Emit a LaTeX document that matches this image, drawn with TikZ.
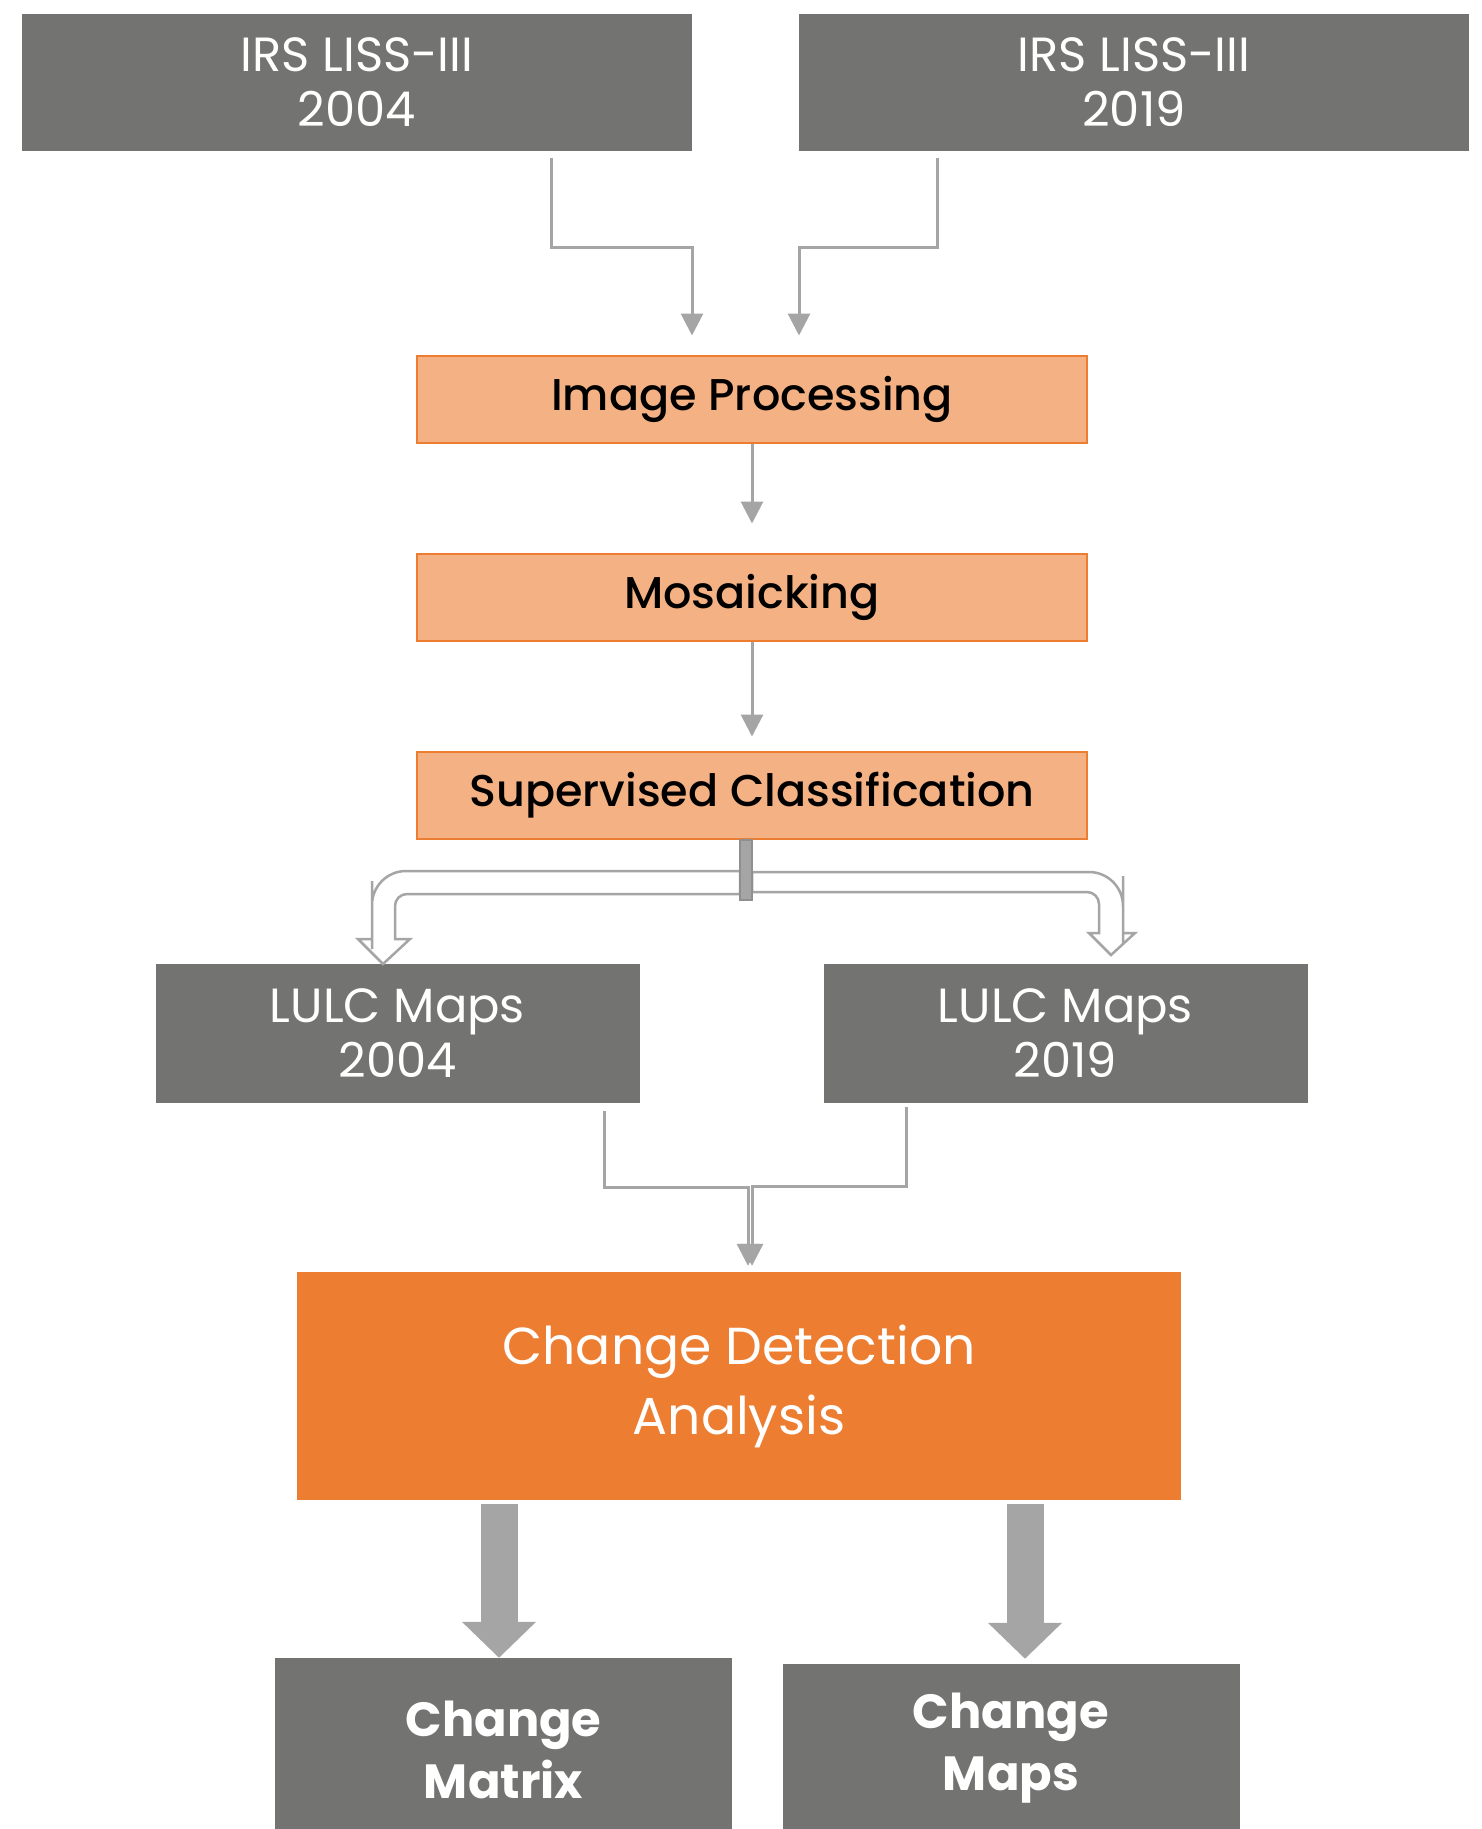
\documentclass[tikz,border=0pt]{standalone}
\usepackage{fontspec}
\setmainfont{Poppins}
\newfontfamily\medfont{Poppins}[UprightFont=*-Medium]
\usetikzlibrary{arrows.meta,positioning}
\definecolor{boxgray}{RGB}{115,115,113}
\definecolor{peach}{RGB}{244,177,131}
\definecolor{deeporange}{RGB}{237,125,49}
\definecolor{arrowgray}{RGB}{165,165,165}
\tikzset{
  source/.style={fill=boxgray, text=white, minimum width=670pt, minimum height=137pt, align=center, inner sep=0pt, font=\fontsize{48}{55}\selectfont},
  lulc/.style={source, minimum width=484pt, minimum height=139pt},
  process/.style={draw=deeporange, line width=2pt, fill=peach, minimum width=670pt, minimum height=87pt, inner sep=0pt, font=\medfont\fontsize{44.5}{55}\selectfont},
  analysis/.style={fill=deeporange, text=white, minimum width=884pt, minimum height=228pt, align=center, inner sep=0pt, font=\fontsize{52}{70}\selectfont},
  output/.style={fill=boxgray, text=white, minimum width=457pt, align=center, inner sep=0pt, font=\bfseries\fontsize{48}{62}\selectfont},
  flow/.style={-{Triangle[length=22pt,width=22pt]}, line width=3pt, draw=arrowgray},
  fat/.style={-{Triangle[length=36pt,width=72pt]}, line width=37pt, draw=arrowgray},
  hollow/.style={draw=arrowgray, line width=2.5pt, fill=white},
  stem/.style={fill=arrowgray, draw=boxgray!80, line width=2pt}
}

\begin{document}
\begin{tikzpicture}[x=1pt, y=-1pt]
  \useasboundingbox (0,0) rectangle (1481,1829);
  \clip (0,0) rectangle (1481,1829);
  \fill[white] (0,0) rectangle (1481,1829);

  % input scenes
  \node[source] (irsA) at (357,82) {IRS LISS-III\\2004};
  \node[source] (irsB) at (1134,82) {IRS LISS-III\\2019};

  % processing chain
  \node[process] (ip) at (752,399) {Image Processing};
  \node[process, below=109pt of ip] (mo) {Mosaicking};
  \node[process, below=109pt of mo] (sc) {Supervised Classification};

  \node[lulc] (la) at (397.5,1033.5) {LULC Maps\\2004};
  \node[lulc] (lb) at (1065.5,1033.5) {LULC Maps\\2019};

  \node[analysis] (cd) at (739,1386) {Change Detection\\Analysis};

  \node[output, minimum height=184pt] (cm) at (503.5,1750) {Change\\Matrix};
  \node[output, minimum height=168pt] (cmp) at (1011,1748) {Change\\Maps};

  % elbow connectors
  \coordinate (ta) at (551,158);
  \coordinate (tb) at (937,158);
  \draw[flow] (ta) -- ++(0,89) -| ([xshift=-60,yshift=19]ip.north);
  \draw[flow] (tb) -- ++(0,89) -| ([xshift=47,yshift=19]ip.north);

  \draw[flow] (ip) -- ([yshift=29]mo.north);
  \draw[flow] (mo) -- ([yshift=14]sc.north);

  % split arrow
  \draw[hollow] (740,871) [rounded corners=34] -- (372,871) -- (372,915) [sharp corners] -- (372,939) -- (358,939) -- (383,964) -- (410,939) -- (395,939) -- (395,920) [rounded corners=12] -- (395,894) -- (720,894) [sharp corners] -- (740,894) -- cycle;
  \draw[hollow] (752,872) [rounded corners=34] -- (1123,872) -- (1123,910) [sharp corners] -- (1123,933) -- (1135,933) -- (1111,955) -- (1089,933) -- (1099,933) -- (1099,915) [rounded corners=12] -- (1099,892) -- (780,892) [sharp corners] -- (752,892) -- cycle;
  \filldraw[stem] ([xshift=-12]sc.south) rectangle ([yshift=-60]sc.south);

  \coordinate (ca) at (604,1111);
  \coordinate (cb) at (906,1107);
  \draw[flow] (ca) -- ++(0,76) -| ([xshift=9,yshift=6]cd.north);
  \draw[flow] (cb) -- ++(0,79) -| ([xshift=13,yshift=6]cd.north);

  % results
  \draw[fat] ([xshift=-4.5,yshift=-4]cd.south -| cm.north) -- ([xshift=-4.5]cm.north);
  \draw[fat] ([xshift=14,yshift=-4]cd.south -| cmp.north) -- ([xshift=14,yshift=5]cmp.north);
\end{tikzpicture}
\end{document}
